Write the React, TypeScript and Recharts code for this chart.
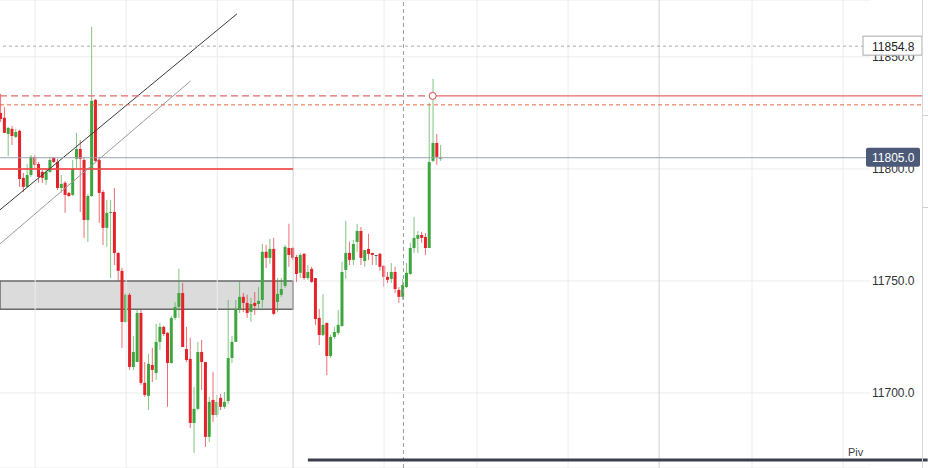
import { ComposedChart, Bar, XAxis, YAxis, CartesianGrid, ReferenceLine, ReferenceArea, ReferenceDot } from "recharts";

// candles (5 min bars)
const OPEN = [
  11825.0, 11822.8, 11815.6, 11817.9, 11814.3, 11817.0, 11796.0, 11792.0, 11797.3, 11805.4,
  11802.2, 11798.7, 11795.1, 11798.7, 11804.9, 11803.1, 11791.5, 11793.8, 11789.3, 11788.4,
  11804.5, 11808.9, 11804.0, 11777.2, 11787.9, 11830.8, 11804.0, 11789.7, 11773.7, 11780.4,
  11780.8, 11762.5, 11754.5, 11731.7, 11743.8, 11711.6, 11713.8, 11735.7, 11704.5, 11698.7,
  11712.5, 11708.9, 11722.8, 11729.5, 11726.8, 11713.4, 11733.5, 11738.4, 11744.6, 11719.6,
  11715.2, 11686.6, 11692.9, 11718.3, 11713.8, 11680.4, 11696.9, 11690.2, 11697.8, 11693.8,
  11696.4, 11715.6, 11722.8, 11737.5, 11742.9, 11740.2, 11736.2, 11740.2, 11739.7, 11741.5,
  11763.0, 11760.3, 11764.3, 11740.6, 11743.8, 11747.8, 11764.7, 11764.7, 11760.7, 11753.6,
  11762.1, 11751.3, 11755.4, 11751.3, 11733.5, 11725.9, 11731.3, 11716.5, 11725.0, 11726.8,
  11729.9, 11754.9, 11762.5, 11759.4, 11767.4, 11772.3, 11758.9, 11764.3, 11762.5, 11761.6,
  11762.1, 11756.7, 11751.8, 11750.9, 11754.0, 11746.0, 11742.9, 11747.3, 11753.1, 11764.7,
  11768.8, 11770.5, 11769.6, 11764.7, 11803.6, 11811.6, 11804.6,
];
const HIGH = [
  11833.5, 11827.7, 11818.8, 11819.2, 11817.9, 11817.5, 11798.2, 11802.2, 11806.2, 11806.2,
  11803.1, 11799.6, 11800.4, 11805.4, 11805.4, 11804.5, 11797.3, 11794.6, 11789.7, 11804.0,
  11816.1, 11812.9, 11805.4, 11788.8, 11863.4, 11831.3, 11805.4, 11790.6, 11786.2, 11786.2,
  11791.5, 11762.8, 11755.8, 11744.6, 11744.6, 11725.4, 11737.1, 11737.1, 11713.8, 11717.4,
  11720.1, 11730.8, 11731.3, 11729.9, 11727.2, 11734.4, 11740.6, 11755.4, 11749.1, 11729.5,
  11724.6, 11702.7, 11722.8, 11723.7, 11713.8, 11698.2, 11709.4, 11699.1, 11699.6, 11700.4,
  11741.5, 11725.4, 11741.5, 11749.6, 11744.6, 11743.8, 11742.4, 11745.1, 11747.3, 11766.5,
  11766.1, 11768.8, 11769.2, 11751.3, 11751.3, 11766.1, 11775.5, 11765.2, 11761.6, 11762.5,
  11762.5, 11757.1, 11756.3, 11751.3, 11737.5, 11744.2, 11731.3, 11725.9, 11729.5, 11737.1,
  11758.5, 11776.8, 11767.4, 11768.3, 11775.5, 11774.1, 11763.8, 11771.0, 11762.5, 11761.6,
  11762.5, 11757.1, 11754.0, 11758.0, 11756.3, 11747.3, 11750.9, 11758.0, 11767.0, 11778.6,
  11772.3, 11771.9, 11771.4, 11829.5, 11840.2, 11815.6, 11810.7,
];
const LOW = [
  11821.0, 11816.0, 11805.8, 11810.7, 11813.8, 11792.0, 11789.7, 11791.5, 11796.4, 11800.4,
  11793.8, 11793.8, 11792.9, 11798.2, 11802.7, 11790.6, 11789.3, 11780.4, 11787.5, 11787.9,
  11800.4, 11780.8, 11769.2, 11767.4, 11787.5, 11803.1, 11775.9, 11766.0, 11765.2, 11751.3,
  11757.1, 11750.0, 11720.1, 11731.3, 11710.3, 11710.3, 11713.8, 11703.6, 11698.2, 11692.4,
  11704.9, 11705.8, 11719.2, 11725.4, 11693.8, 11713.0, 11732.6, 11733.5, 11720.5, 11713.8,
  11684.4, 11673.2, 11692.4, 11701.3, 11675.9, 11678.1, 11687.1, 11689.3, 11692.4, 11692.9,
  11695.1, 11713.4, 11722.8, 11735.7, 11736.2, 11733.5, 11731.7, 11734.8, 11737.1, 11738.0,
  11755.8, 11757.6, 11734.8, 11736.2, 11742.9, 11746.9, 11756.3, 11759.4, 11749.6, 11751.3,
  11750.5, 11750.5, 11749.1, 11730.4, 11721.4, 11725.4, 11708.0, 11715.6, 11724.1, 11725.9,
  11729.5, 11750.9, 11757.1, 11757.1, 11763.0, 11757.1, 11756.3, 11759.4, 11757.1, 11757.1,
  11754.5, 11747.3, 11749.1, 11749.1, 11744.6, 11740.2, 11741.5, 11746.9, 11752.7, 11762.5,
  11762.5, 11767.0, 11761.6, 11764.7, 11803.1, 11801.8, 11803.6,
];
const CLOSE = [
  11822.3, 11816.1, 11818.3, 11814.7, 11816.5, 11795.5, 11792.0, 11797.3, 11805.4, 11801.8,
  11796.4, 11796.0, 11798.7, 11804.0, 11803.1, 11791.5, 11793.3, 11788.4, 11787.9, 11800.0,
  11808.9, 11804.5, 11777.2, 11787.9, 11830.4, 11803.6, 11789.3, 11773.7, 11780.4, 11780.8,
  11762.5, 11754.5, 11731.7, 11743.8, 11711.6, 11718.3, 11735.7, 11704.5, 11699.1, 11713.0,
  11710.3, 11722.8, 11729.5, 11726.3, 11713.4, 11733.5, 11738.4, 11744.6, 11720.5, 11714.7,
  11686.6, 11692.9, 11718.3, 11713.8, 11680.4, 11696.0, 11690.2, 11696.0, 11693.8, 11696.0,
  11715.6, 11722.8, 11737.5, 11742.9, 11740.2, 11735.7, 11739.7, 11738.8, 11741.1, 11763.0,
  11760.3, 11764.3, 11735.3, 11744.2, 11746.4, 11765.2, 11761.6, 11760.3, 11753.1, 11761.6,
  11751.3, 11754.0, 11749.6, 11733.0, 11725.9, 11730.4, 11716.5, 11725.0, 11727.2, 11730.4,
  11754.0, 11762.5, 11759.4, 11766.5, 11772.3, 11760.3, 11763.8, 11762.1, 11761.6, 11761.6,
  11756.3, 11751.8, 11750.5, 11754.0, 11746.4, 11742.9, 11748.2, 11753.6, 11764.7, 11769.2,
  11770.5, 11769.2, 11764.7, 11803.1, 11811.6, 11805.4, 11805.0,
];

const Y_TICKS = [11700, 11750, 11800, 11850];
const GRID_X = [9, 33, 57, 101, 125.5, 149.5, 198, 222];
const SESSION_X = [77, 173.5];
const CROSSHAIR_X = 106.1;

const LAST_PRICE = 11805.0;
const DAY_HIGH = 11854.8;
const ALERT_PRICE = 11832.6;
const ALERT_BAR = 113.8;
const ORANGE_LEVEL = 11828.6;
const RED_LEVEL = 11800;
const ZONE_LOW = 11737.4;
const ZONE_HIGH = 11750;
const ZONE_END = 77;
const PIVOT = 11670.1;
const PIVOT_START = 80.9;
const TREND_BLACK = [{ x: -0.3, y: 11781.7 }, { x: 62.2, y: 11869.2 }];
const TREND_GREY = [{ x: -0.3, y: 11766.5 }, { x: 50, y: 11839.3 }];

const W = 928;
const H = 468;
const AXIS_W = 58;
const X_MIN = -0.264;
const X_MAX = 229.1;
const X_EDGE = 243; // right border of the price scale
const Y_MIN = 11666.5;
const Y_MAX = 11875.4;

const RED = "#e5222a";
const GREEN = "#3ea63e";
const FONT = "Arial, 'Liberation Sans', sans-serif";

const data = OPEN.map((o, i) => ({
  i,
  open: o,
  high: HIGH[i],
  low: LOW[i],
  close: CLOSE[i],
  range: [LOW[i], HIGH[i]],
}));

// same linear mapping as the chart's y axis, used for the tags drawn above the axis layer
const yOf = (v: number) => ((Y_MAX - v) / (Y_MAX - Y_MIN)) * H;

const Candle = (props: any) => {
  const { x, y, width, height, payload } = props;
  if (!payload) return null;
  const { open, close, high, low } = payload;
  const top = Math.min(y, y + height);
  const h = Math.abs(height);
  const k = h / (high - low);
  const cx = x + width / 2;
  const bodyTop = top + (high - Math.max(open, close)) * k;
  const bodyH = Math.max(1, Math.abs(open - close) * k);
  const color = close > open ? GREEN : close < open ? RED : "#555";
  return (
    <g>
      <line x1={cx} x2={cx} y1={top} y2={top + h} stroke={color} strokeOpacity={0.65} />
      <rect x={cx - 1.5} y={bodyTop} width={3} height={bodyH} fill={color} />
    </g>
  );
};

const PriceTag = ({ value, dark }: { value: number; dark?: boolean }) => {
  const right = W - AXIS_W;
  const cy = yOf(value);
  return (
    <g>
      <rect
        x={dark ? right - 4 : right - 7}
        y={cy - 10}
        width={dark ? 54 : 59}
        height={19}
        rx={dark ? 2 : 0}
        fill={dark ? "#4b5a78" : "#fff"}
        stroke={dark ? "none" : "#aaa"}
      />
      <text x={right + 2} y={cy + 4.5} fill={dark ? "#fff" : "#222"} fontSize={12} fontFamily={FONT}>
        {value.toFixed(1)}
      </text>
    </g>
  );
};

const PivLabel = (props: any) => {
  const { viewBox } = props;
  if (!viewBox) return null;
  return (
    <text x={viewBox.x + viewBox.width - 22} y={viewBox.y - 4} fill="#3a3f4b" fontSize={11} fontFamily={FONT}>
      Piv
    </text>
  );
};

export default function App() {
  return (
    <div style={{ position: "absolute", left: 0, top: 0, width: W, height: H, background: "#fff" }}>
      <ComposedChart width={W} height={H} data={data} margin={{ top: 0, right: 0, bottom: 0, left: 0 }}>
        <CartesianGrid vertical={false} stroke="#ececec" />
        <XAxis dataKey="i" type="number" domain={[X_MIN, X_MAX]} allowDataOverflow hide />
        <YAxis
          orientation="right"
          width={AXIS_W}
          domain={[Y_MIN, Y_MAX]}
          allowDataOverflow
          ticks={Y_TICKS}
          tickFormatter={(v: number) => v.toFixed(1)}
          tick={{ fill: "#333", fontSize: 12, fontFamily: FONT }}
          tickSize={0}
          tickMargin={2}
          axisLine={false}
          tickLine={false}
        />
        {GRID_X.map((gx) => (
          <ReferenceLine key={gx} x={gx} stroke="#ececec" />
        ))}
        {SESSION_X.map((gx) => (
          <ReferenceLine key={gx} x={gx} stroke="#d2d2d2" />
        ))}
        <ReferenceLine x={CROSSHAIR_X} stroke="#9a9aa6" strokeDasharray="4 3" />

        <Bar dataKey="range" barSize={3} shape={<Candle />} isAnimationActive={false} />

        <ReferenceArea
          x1={X_MIN}
          x2={ZONE_END}
          y1={ZONE_LOW}
          y2={ZONE_HIGH}
          fill="#7f7f7f"
          fillOpacity={0.28}
          stroke="#6a6a6a"
          strokeWidth={1.5}
          ifOverflow="visible"
        />
        <ReferenceLine
          segment={[{ x: X_MIN, y: RED_LEVEL }, { x: ZONE_END, y: RED_LEVEL }]}
          stroke="#ee4a4a"
          strokeOpacity={0.85}
          strokeWidth={2}
          ifOverflow="visible"
        />
        <ReferenceLine segment={TREND_BLACK} stroke="#3a3a3a" strokeWidth={1} ifOverflow="hidden" />
        <ReferenceLine segment={TREND_GREY} stroke="#9a9a9a" strokeWidth={1} ifOverflow="hidden" />

        <ReferenceLine y={DAY_HIGH} stroke="#aaa" strokeDasharray="3 3" />
        <ReferenceLine
          segment={[{ x: X_MIN, y: ORANGE_LEVEL }, { x: X_EDGE, y: ORANGE_LEVEL }]}
          stroke="#e8653f"
          strokeDasharray="4 3"
          ifOverflow="visible"
        />
        <ReferenceLine
          segment={[{ x: X_MIN, y: ALERT_PRICE }, { x: ALERT_BAR, y: ALERT_PRICE }]}
          stroke="#e36a6a"
          strokeDasharray="7 4"
          strokeWidth={1.2}
          ifOverflow="visible"
        />
        <ReferenceLine
          segment={[{ x: ALERT_BAR, y: ALERT_PRICE }, { x: X_EDGE, y: ALERT_PRICE }]}
          stroke="#e36a6a"
          strokeWidth={1.2}
          ifOverflow="visible"
        />
        <ReferenceDot x={ALERT_BAR} y={ALERT_PRICE} r={3.5} fill="#fff" stroke="#d84848" ifOverflow="visible" />
        <ReferenceLine y={LAST_PRICE} stroke="#9aa4b0" />
        <ReferenceLine
          segment={[{ x: PIVOT_START, y: PIVOT }, { x: X_EDGE + 1.3, y: PIVOT }]}
          stroke="#3a3f4b"
          strokeWidth={3}
          ifOverflow="visible"
        />
        <ReferenceLine y={PIVOT} stroke="none" label={<PivLabel />} />
      </ComposedChart>
      <svg width={W} height={H} style={{ position: "absolute", left: 0, top: 0, pointerEvents: "none" }}>
        <PriceTag value={DAY_HIGH} />
        <PriceTag value={LAST_PRICE} dark />
      </svg>
      <div style={{ position: "absolute", left: 922, top: 0, width: 1, height: H, background: "#d8d8d8" }} />
      <div style={{ position: "absolute", left: 923, top: 115, width: 5, height: 1, background: "#d0d0d0" }} />
      <div style={{ position: "absolute", left: 923, top: 207, width: 5, height: 1, background: "#d0d0d0" }} />
    </div>
  );
}
